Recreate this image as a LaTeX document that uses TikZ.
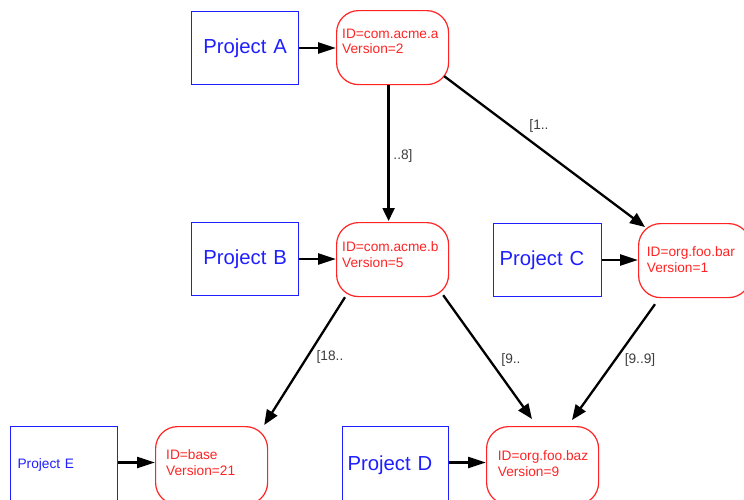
\documentclass[tikz,border=0pt]{standalone}
\usepackage{fontspec}
\setmainfont{Liberation Sans}
\usetikzlibrary{arrows.meta,calc}
\definecolor{projblue}{RGB}{30,30,255}
\definecolor{pkgred}{RGB}{255,35,35}
\definecolor{cardgray}{RGB}{60,60,60}

\begin{document}
\begin{tikzpicture}[x=1pt,y=-1pt,
  project/.style={draw=projblue, line width=1.2pt, text=projblue, minimum height=73pt,
    align=left, inner ysep=0pt, font=\fontsize{20.3}{24}\selectfont, anchor=north west},
  artifact/.style={draw=pkgred, line width=1.2pt, rounded corners=22pt, minimum width=112pt,
    minimum height=74pt, anchor=north west, inner sep=0pt},
  artifacttext/.style={text=pkgred, font=\fontsize{13.7}{15.7}\selectfont, align=left,
    anchor=north west, inner sep=0pt},
  card/.style={text=cardgray, font=\fontsize{13.7}{16}\selectfont, inner sep=0pt},
  uses/.style={line width=2.3pt, -{Triangle[length=18pt,width=11pt]}},
  dep/.style={line width=2.3pt, -{Triangle[length=15pt,width=12pt]}},
  depv/.style={line width=2.3pt, -{Triangle[length=13pt,width=12pt]}},
]
\useasboundingbox (0,0) rectangle (744,499);

% projects
\node[project, inner xsep=4pt, text width=99pt, align=center] (pa) at (191,11) {Project A};
\node[project, inner xsep=4pt, text width=99pt, align=center] (pb) at (191,222) {Project B};
\node[project, inner xsep=6pt, text width=96pt] (pc) at (493,223) {Project C};
\node[project, inner xsep=5pt, text width=96pt, minimum height=77pt] (pd) at (342,426) {Project D};
\node[project, inner xsep=7pt, text width=93pt, minimum height=77pt,
  font=\fontsize{13.7}{16}\selectfont] (pe) at (10,426) {Project E};

% artifacts
\node[artifact] (ra) at (336,10) {};
\node[artifact] (rb) at (336,222) {};
\node[artifact] (rc) at (638,223) {};
\node[artifact, minimum height=78pt] (rd) at (486,426) {};
\node[artifact, minimum height=78pt] (re) at (155,426) {};

\node[artifacttext] (ta) at ($(ra.north west)+(6,18.5)$) {ID=com.acme.a\\Version=2};
\node[artifacttext] (tb) at ($(rb.north west)+(6,19.7)$) {ID=com.acme.b\\Version=5};
\node[artifacttext] (tc) at ($(rc.north west)+(8.7,23.7)$) {ID=org.foo.bar\\Version=1};
\node[artifacttext] (td) at ($(rd.north west)+(11.7,24.7)$) {ID=org.foo.baz\\Version=9};
\node[artifacttext] (te) at ($(re.north west)+(11,23.3)$) {ID=base\\Version=21};

% project -> artifact
\draw[uses] ($(pa.north east)+(0,37)$) -- ($(pa.north east -| ra.west)+(0,37)$);
\draw[uses] ($(pb.north east)+(0,37)$) -- ($(pb.north east -| rb.west)+(0,37)$);
\draw[uses] ($(pc.north east)+(0,37)$) -- ($(pc.north east -| rc.west)+(0,37)$);
\draw[uses] ($(pd.north east)+(0,36.5)$) -- ($(pd.north east -| rd.west)+(0,36.5)$);
\draw[uses] ($(pe.north east)+(0,36.5)$) -- ($(pe.north east -| re.west)+(0,36.5)$);

% artifact dependencies
\draw[depv] ($(ra.south)+(-4,0)$) -- ($(rb.north)+(-4,-1)$);
\draw[dep] ($(ra.south east)+(-5,-9)$) -- ($(rc.north west)+(7,4)$);
\draw[dep] ($(rb.south west)+(9,0)$) -- ($(re.north east)+(-4,-1)$);
\draw[dep] ($(rb.south east)+(-6,-2)$) -- ($(rd.north west)+(46,-7)$);
\draw[dep] ($(rc.south west)+(17,6)$) -- ($(rd.north west)+(86,-6)$);

% cardinalities
\node[card] (cab) at (403,156) {..8]};
\node[card] (cac) at (539,126) {{[}1..};
\node[card] (cbe) at (330,357) {{[}18..};
\node[card] (cbd) at (511,360) {{[}9..};
\node[card] (ccd) at (640,360) {{[}9..9]};
\end{tikzpicture}
\end{document}
